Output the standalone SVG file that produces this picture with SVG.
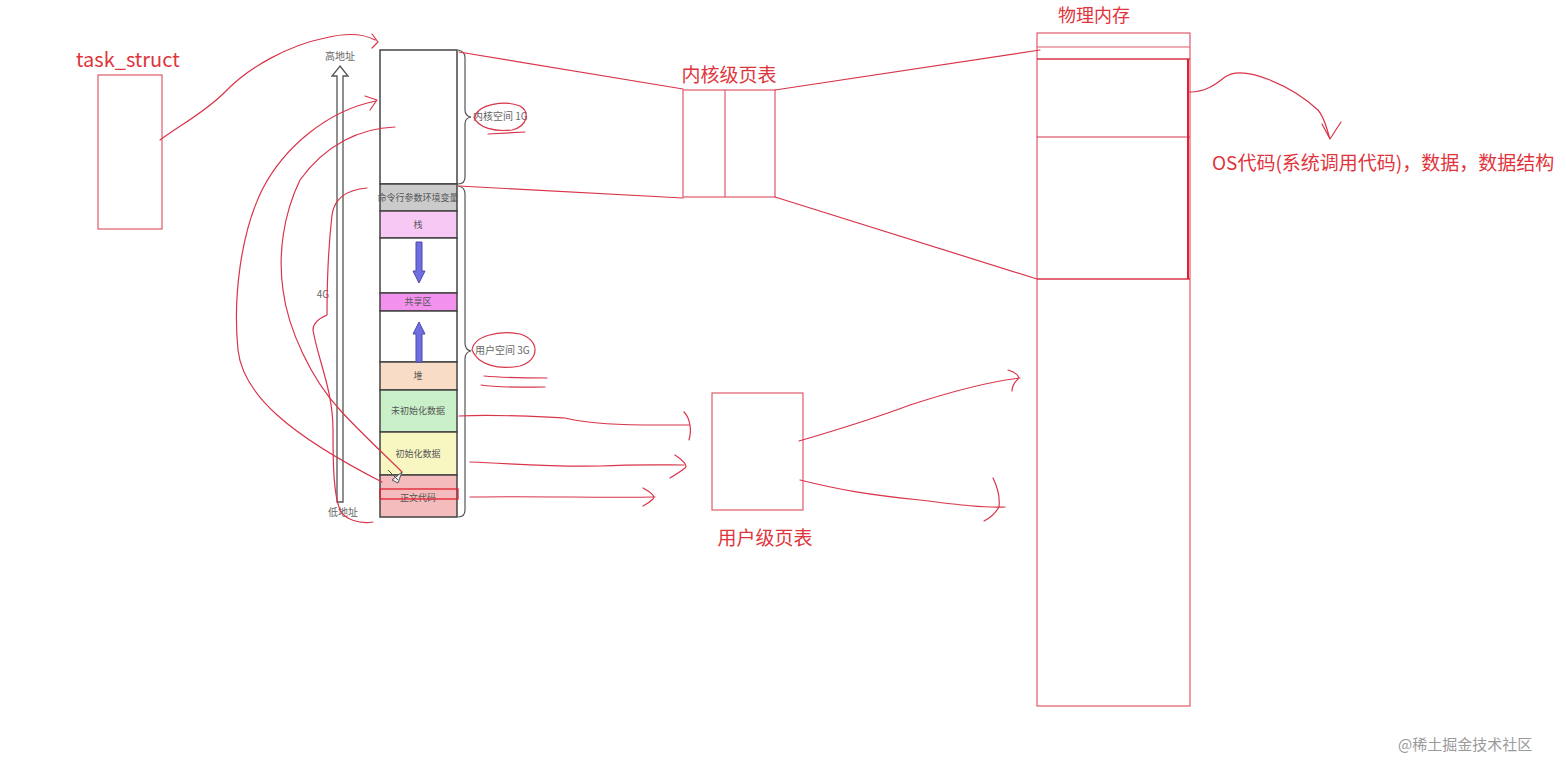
<svg xmlns="http://www.w3.org/2000/svg" width="1566" height="760" viewBox="0 0 1566 760">
<defs>
<style>
.red{fill:none;stroke:#d8344a;stroke-width:1.2;stroke-linecap:round;stroke-linejoin:round}
.box{fill:#fff;stroke:#e05a6a;stroke-width:1.2}
.seg{stroke:#444;stroke-width:1.5}
.lbl{font-family:"Noto Sans CJK SC","Liberation Sans",sans-serif;fill:#e0343c}
.small{font-family:"Noto Sans CJK SC","Liberation Sans",sans-serif;fill:#555;font-size:9px;text-anchor:middle}
.gray{font-family:"Noto Sans CJK SC","Liberation Sans",sans-serif;fill:#666;font-size:10px}
.blue{fill:#6e6ee0;stroke:#4a4aa8;stroke-width:1}
</style>
</defs>
<rect width="1566" height="760" fill="#fff"/>

<g id="task_struct">
<text class="lbl" x="76" y="67" font-size="20">task_struct</text>
<rect class="box" x="98" y="75" width="64" height="154"/>
</g>

<g id="address-arrow">
<polygon points="340,66 348,76 343,76 343,502 337,502 337,76 332,76" fill="#fff" stroke="#555" stroke-width="1.3"/>
<text class="gray" x="340" y="60" text-anchor="middle">高地址</text>
<text class="gray" x="343" y="516" text-anchor="middle">低地址</text>
<text class="gray" x="323" y="298" text-anchor="middle">4G</text>
</g>

<g id="address-space">
<rect class="seg" x="380" y="50" width="77" height="134" fill="#fff"/>
<rect class="seg" x="380" y="184" width="77" height="27" fill="#cbcbcb"/>
<rect class="seg" x="380" y="211" width="77" height="27" fill="#f7c8f4"/>
<rect class="seg" x="380" y="238" width="77" height="55" fill="#fff"/>
<rect class="seg" x="380" y="293" width="77" height="18" fill="#f291ee"/>
<rect class="seg" x="380" y="311" width="77" height="51" fill="#fff"/>
<rect class="seg" x="380" y="362" width="77" height="28" fill="#f8dcc6"/>
<rect class="seg" x="380" y="390" width="77" height="42" fill="#c9f0c9"/>
<rect class="seg" x="380" y="432" width="77" height="43" fill="#f8f7c2"/>
<rect class="seg" x="380" y="475" width="77" height="42" fill="#f4bcbc"/>
<text class="small" x="418" y="201">命令行参数环境变量</text>
<text class="small" x="418" y="228">栈</text>
<text class="small" x="418" y="305">共享区</text>
<text class="small" x="418" y="379">堆</text>
<text class="small" x="418" y="414">未初始化数据</text>
<text class="small" x="418" y="457">初始化数据</text>
<text class="small" x="418" y="501">正文代码</text>
<polygon class="blue" points="416,242 422,242 422,271 425,271 419,283 413,271 416,271"/>
<polygon class="blue" points="416,362 422,362 422,334 425,334 419,322 413,334 416,334"/>
<path d="M458,50 Q465,51 465,58 L465,110 Q465,116 471,117 Q465,118 465,124 L465,177 Q465,184 458,184" fill="none" stroke="#555" stroke-width="1.2"/>
<path d="M458,186 Q465,187 465,194 L465,343 Q465,350 471,351 Q465,352 465,359 L465,510 Q465,517 458,517" fill="none" stroke="#555" stroke-width="1.2"/>
<text class="gray" x="473" y="120" font-size="9.5">内核空间 1G</text>
<text class="gray" x="475" y="354" font-size="9.5">用户空间 3G</text>
</g>

<g id="kernel-page-table">
<text class="lbl" x="729" y="82" font-size="19" text-anchor="middle">内核级页表</text>
<rect class="box" x="683" y="90" width="92" height="107"/>
<line x1="725" y1="90" x2="725" y2="197" stroke="#e05a6a" stroke-width="1.2"/>
</g>

<g id="user-page-table">
<rect class="box" x="712" y="393" width="91" height="117"/>
<text class="lbl" x="765" y="545" font-size="19" text-anchor="middle">用户级页表</text>
</g>

<g id="physical-memory">
<text class="lbl" x="1094" y="22" font-size="18" text-anchor="middle">物理内存</text>
<rect class="box" x="1037" y="33" width="153" height="673"/>
<line x1="1037" y1="47" x2="1190" y2="47" stroke="#e05a6a" stroke-width="1.2"/>
<line x1="1037" y1="59" x2="1190" y2="59" stroke="#d8344a" stroke-width="1.4"/>
<line x1="1037" y1="137" x2="1190" y2="137" stroke="#d8344a" stroke-width="1.2"/>
<line x1="1037" y1="279" x2="1190" y2="279" stroke="#d8344a" stroke-width="1.4"/>
<line x1="1188" y1="59" x2="1188" y2="279" stroke="#e02030" stroke-width="2"/>
</g>

<g id="os-label">
<text class="lbl" x="1212" y="170" font-size="19">OS代码(系统调用代码)，数据，数据结构</text>
</g>

<g id="watermark">
<text x="1398" y="750" font-family="Noto Sans CJK SC, Liberation Sans, sans-serif" font-size="15" fill="#9a9a9a">@稀土掘金技术社区</text>
</g>

<g id="connectors">
<path class="red" d="M459,52 L683,89"/>
<path class="red" d="M459,186 L683,198"/>
<path class="red" d="M775,90 L1040,50"/>
<path class="red" d="M775,197 L1037,279"/>
<path class="red" d="M160,140 C185,122 205,112 225,92 C250,66 290,45 325,38 C345,33 362,33 375,40 M372,34 L378,42 L372,48"/>
<path class="red" d="M376,101 C330,110 285,145 262,190 C240,235 233,300 238,350 C243,395 290,435 382,482 M365,96 L377,100 L370,110"/>
<path class="red" d="M395,127 C360,128 325,145 300,180 C283,215 278,255 283,290 C288,330 312,380 340,410 C360,432 385,455 402,472"/>
<path class="red" d="M367,188 C345,190 334,200 332,215 C328,250 327,285 327,315 C320,318 313,322 313,330 C318,360 333,390 333,430 C333,470 334,495 340,510 C345,520 360,524 373,522"/>
<path d="M388,470 L398,480 M402,472 L398,483 L392,480 Z" fill="#eee" stroke="#555" stroke-width="1"/>
<rect x="380" y="489" width="78" height="10" fill="none" stroke="#e02030" stroke-width="1.3"/>
<path class="red" d="M475,117 C478,104 505,100 520,106 C530,112 528,126 512,130 C495,132 478,128 474,117 M488,134 L525,132"/>
<path class="red" d="M472,350 C474,336 498,330 520,334 C540,340 540,360 520,366 C498,370 478,365 472,350 M484,376 C505,378 525,378 547,378 M481,385 C500,388 525,387 545,387"/>
<path class="red" d="M459,416 C500,414 540,417 565,418 C590,424 620,425 660,425 L690,425 M684,412 C690,418 692,430 689,440"/>
<path class="red" d="M470,462 C520,464 550,467 600,466 C640,464 665,465 684,465 M675,455 C683,460 688,466 685,468 C680,472 675,475 670,478"/>
<path class="red" d="M470,497 C540,496 600,498 655,497 M643,488 C650,492 656,496 653,499 C650,502 647,504 643,506"/>
<path class="red" d="M799,441 C830,432 870,420 910,405 C950,392 985,382 1020,378 M1008,370 C1015,372 1020,376 1018,379 C1015,382 1012,386 1012,391"/>
<path class="red" d="M800,480 C840,490 870,495 920,500 C960,505 985,508 1005,507 M993,478 C998,488 1000,498 999,507 C995,514 990,518 984,521"/>
<path class="red" d="M1190,92 C1205,92 1215,85 1225,77 C1235,70 1250,72 1270,80 C1290,88 1305,98 1318,110 C1325,118 1327,130 1330,139 M1322,124 L1330,139 L1341,122"/>
</g>
</svg>
